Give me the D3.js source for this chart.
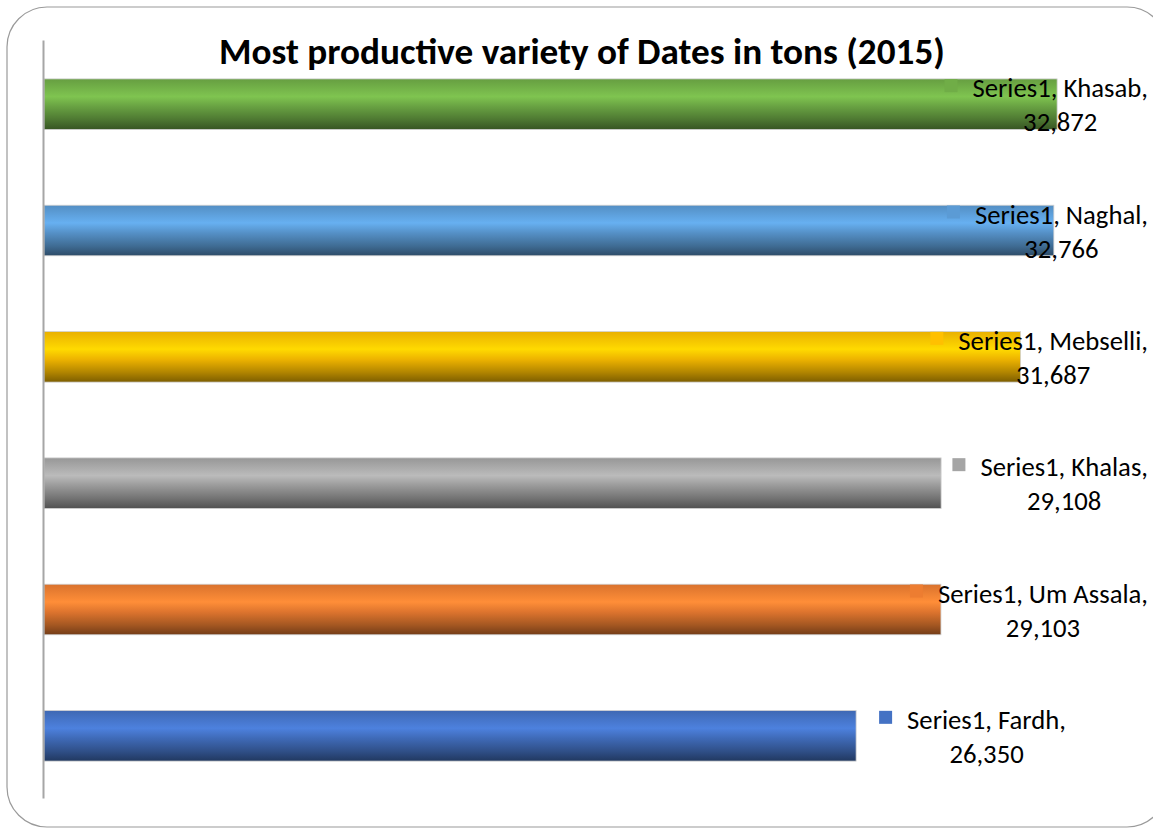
<!DOCTYPE html>
<html>
<head>
<meta charset="utf-8">
<script src="https://cdn.jsdelivr.net/npm/d3@7/dist/d3.min.js"></script>
<style>
  html, body { margin: 0; padding: 0; background: #fff; }
  svg { display: block; }
</style>
</head>
<body>
<svg id="chart" width="1153" height="828"></svg>
<script>
// ---- data (top to bottom) ----
const categories = ["Khasab", "Naghal", "Mebselli", "Khalas", "Um Assala", "Fardh"];
const values = [32872, 32766, 31687, 29108, 29103, 26350];
const seriesName = "Series1";
const colors = ["#70AD47", "#5B9BD5", "#FFC000", "#A5A5A5", "#ED7D31", "#4472C4"];
const title = "Most productive variety of Dates in tons (2015)";
const xMax = 35000;

const FONT = "Carlito, Calibri, Lato, 'Open Sans', sans-serif";
const svg = d3.select("#chart");

// chart border
svg.append("rect")
  .attr("x", 7).attr("y", 7).attr("width", 1160).attr("height", 820)
  .attr("rx", 40).attr("ry", 40)
  .attr("fill", "#fff").attr("stroke", "#9a9a9a").attr("stroke-width", 1.2);

const x = d3.scaleLinear().domain([0, xMax]).range([44, 1122.7]);
const y = d3.scaleBand().domain(categories).range([41, 799]).paddingInner(0.6).paddingOuter(0.3);

// gradients
const defs = svg.append("defs");
colors.forEach((c, i) => {
  const base = d3.color(c);
  const g = defs.append("linearGradient").attr("id", "g" + i)
    .attr("x1", 0).attr("y1", 0).attr("x2", 0).attr("y2", 1);
  const stops = [
    [0, base.darker(0.25)],
    [0.35, base.brighter(0.35)],
    [0.55, base.darker(0.2)],
    [0.8, base.darker(1.0)],
    [1, base.darker(2.0)]
  ];
  stops.forEach(([o, col]) => g.append("stop").attr("offset", o).attr("stop-color", col.formatHex()));
});

// bars
svg.append("g").selectAll("rect").data(categories).join("rect")
  .attr("x", x(0))
  .attr("y", d => y(d))
  .attr("width", (d, i) => x(values[i]) - x(0))
  .attr("height", y.bandwidth())
  .attr("fill", (d, i) => `url(#g${i})`)
  .attr("stroke", "#d0d0d0").attr("stroke-width", 0.8);

// axis (category axis without ticks/labels)
const axis = svg.append("g").attr("transform", `translate(43,0)`)
  .call(d3.axisLeft(d3.scaleLinear().range([40, 798])).ticks(0).tickSize(0).tickFormat(""));
axis.select(".domain").attr("stroke", "#a6a6a6").attr("stroke-width", 2);

// fit font sizes
function fitSize(text, weight, target) {
  const t = svg.append("text").attr("font-family", FONT).attr("font-weight", weight)
    .attr("font-size", 100).text(text);
  const w = t.node().getComputedTextLength();
  t.remove();
  return 100 * target / w;
}
const labelSize = fitSize("Series1, Fardh,", "normal", 159);
const titleSize = fitSize(title, "bold", 726);

// title
svg.append("text")
  .attr("x", 582).attr("y", 64)
  .attr("text-anchor", "middle")
  .attr("font-family", FONT).attr("font-weight", "bold")
  .attr("font-size", titleSize).attr("fill", "#000")
  .text(title);

// data labels
const fmt = d3.format(",");
const rightLimit = 1148;
const lg = svg.append("g");
categories.forEach((cat, i) => {
  const cy = y(cat) + y.bandwidth() / 2;
  const g = lg.append("g");
  const t1 = g.append("text")
    .attr("font-family", FONT).attr("font-size", labelSize).attr("fill", "#000")
    .attr("y", cy - 7)
    .text(`${seriesName}, ${cat},`);
  const w = t1.node().getComputedTextLength();
  const left = Math.min(x(values[i]) + 51, rightLimit - w);
  t1.attr("x", left);
  g.append("text")
    .attr("font-family", FONT).attr("font-size", labelSize).attr("fill", "#000")
    .attr("x", left + w / 2).attr("y", cy + 27)
    .attr("text-anchor", "middle")
    .text(fmt(values[i]));
  g.insert("rect", "text")
    .attr("x", left - 28).attr("y", cy - 25)
    .attr("width", 13).attr("height", 13)
    .attr("fill", colors[i]);
});
</script>
</body>
</html>
